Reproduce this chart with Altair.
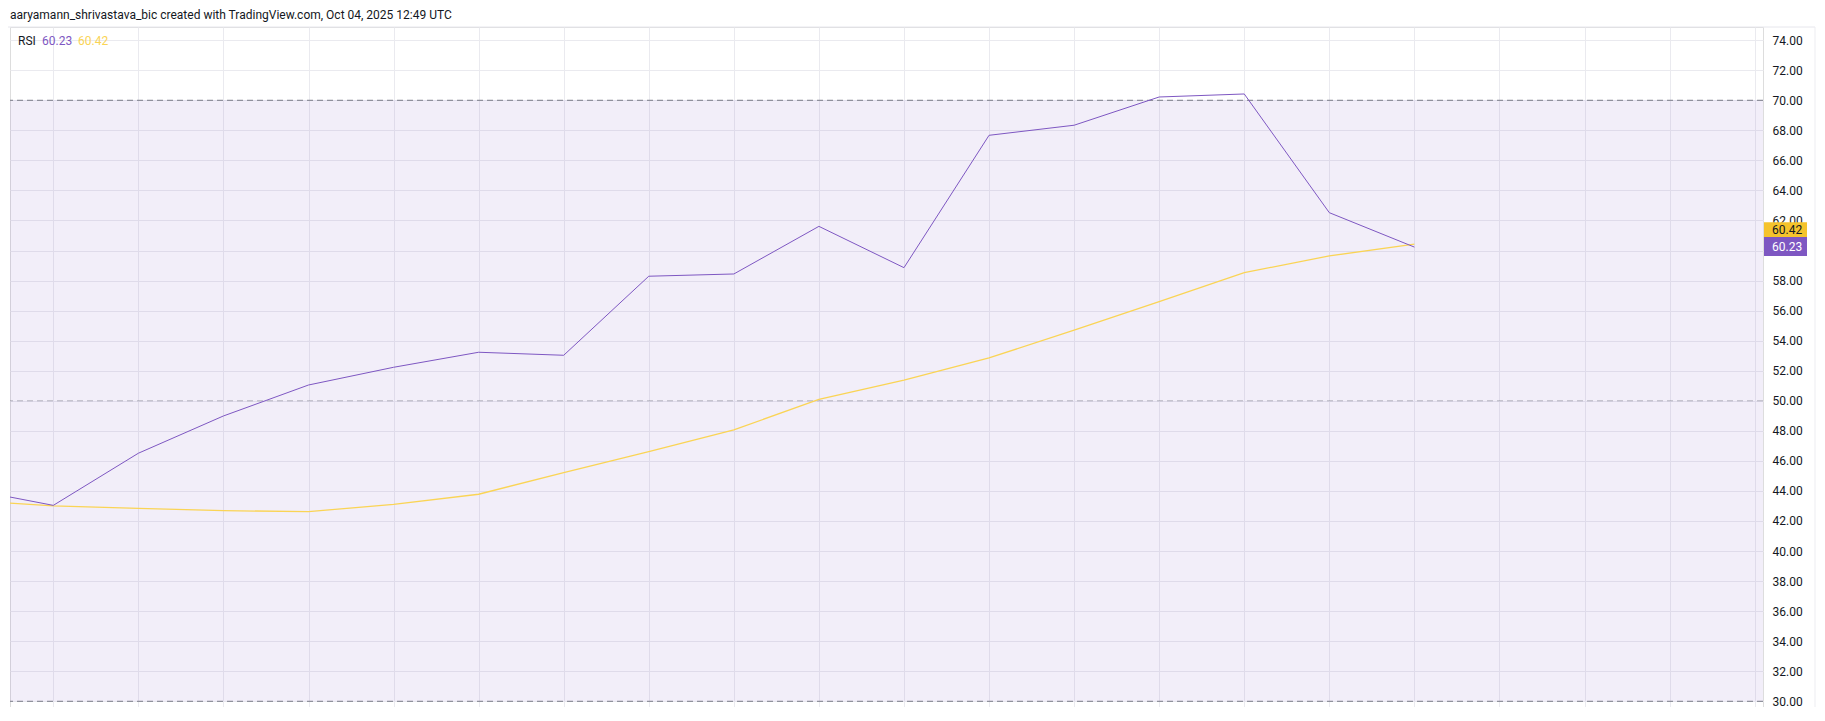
import altair as alt
import pandas as pd

# ---- data ----
bar_index = list(range(-1, 17))
rsi_values = [44.13, 43.04, 46.51, 48.99, 51.05, 52.23, 53.23, 53.03, 58.29, 58.44,
              61.61, 58.86, 67.67, 68.34, 70.22, 70.42, 62.52, 60.23]
ma_values = [43.36, 43.00, 42.84, 42.69, 42.62, 43.11, 43.78, 45.22, 46.61, 48.06,
             50.10, 51.38, 52.85, 54.71, 56.60, 58.53, 59.64, 60.42]
band_upper = [70]
band_lower = [30]
band_middle = [50]
y_tick_values = list(range(30, 76, 2))
x_grid_values = list(range(0, 21))
title_text = ["aaryamann_shrivastava_bic created with TradingView.com, Oct 04, 2025 12:49 UTC"]
legend_labels = ["RSI", "60.23", "60.42"]
last_rsi = [60.23]
last_ma = [60.42]

PURPLE = "#7E57C2"
YELLOW = "#FAD455"
TEXT = "#131722"
GRID = "#EAEAEF"
FONT = "Roboto"

W = 1753
H = 680

df = pd.DataFrame({"i": bar_index, "rsi": rsi_values, "ma": ma_values})

xscale = alt.Scale(domain=[-0.509, 20.098], nice=False, zero=False)
yscale = alt.Scale(domain=[29.62, 74.878], nice=False, zero=False)

x_axis = alt.Axis(values=x_grid_values, labels=False, ticks=False, domain=False,
                  grid=True, gridColor=GRID, gridWidth=1, title=None)
y_axis = alt.Axis(orient="right", values=y_tick_values, format=".2f",
                  ticks=False, domain=False, labelPadding=9, labelOverlap=False,
                  labelFont=FONT, labelFontSize=12, labelColor=TEXT,
                  grid=True, gridColor=GRID, gridWidth=1, title=None)


def Y(field):
    return alt.Y(field, scale=yscale, axis=y_axis)


def X(field):
    return alt.X(field, scale=xscale, axis=x_axis)


base = alt.Chart(df)

band = alt.Chart(pd.DataFrame({"top": band_upper, "bot": band_lower})).mark_rect(
    color=PURPLE, opacity=0.1
).encode(x=alt.value(0), x2=alt.value(W), y=Y("top:Q"), y2="bot:Q")

outer_rules = alt.Chart(pd.DataFrame({"lvl": band_upper + band_lower})).mark_rule(
    color="#787B86", strokeDash=[6, 4], strokeWidth=1
).encode(y=Y("lvl:Q"))

mid_rule = alt.Chart(pd.DataFrame({"lvl": band_middle})).mark_rule(
    color="#787B86", strokeDash=[6, 4], strokeWidth=1, opacity=0.5
).encode(y=Y("lvl:Q"))

ma_line = base.mark_line(color=YELLOW, strokeWidth=1.3, clip=True).encode(
    x=X("i:Q"), y=Y("ma:Q"))

rsi_line = base.mark_line(color=PURPLE, strokeWidth=1, clip=True).encode(
    x=X("i:Q"), y=Y("rsi:Q"))

# price label boxes on the right scale
ma_box = alt.Chart(pd.DataFrame({"v": last_ma})).mark_rect(
    color="#F5C32C", yOffset=-22, y2Offset=-7
).encode(x=alt.value(W + 1), x2=alt.value(W + 44), y=Y("v:Q"), y2="v:Q")
ma_box_text = alt.Chart(pd.DataFrame({"v": last_ma})).mark_text(
    align="left", baseline="middle", font=FONT, fontSize=12, color=TEXT, dy=-14.5
).encode(x=alt.value(W + 9), y=Y("v:Q"), text=alt.Text("v:Q", format=".2f"))

rsi_box = alt.Chart(pd.DataFrame({"v": last_rsi})).mark_rect(
    color=PURPLE, yOffset=-10, y2Offset=9
).encode(x=alt.value(W + 1), x2=alt.value(W + 44), y=Y("v:Q"), y2="v:Q")
rsi_box_text = alt.Chart(pd.DataFrame({"v": last_rsi})).mark_text(
    align="left", baseline="middle", font=FONT, fontSize=12, color="white", dy=-0.5
).encode(x=alt.value(W + 9), y=Y("v:Q"), text=alt.Text("v:Q", format=".2f"))

# legend text in the top-left corner
legend_df = pd.DataFrame({
    "label": legend_labels,
    "col": [TEXT, PURPLE, YELLOW],
    "px": [8, 32, 68],
})
legend = alt.Chart(legend_df).mark_text(
    align="left", baseline="middle", font=FONT, fontSize=12
).encode(x=alt.X("px:Q", scale=None), y=alt.value(14), text="label:N",
         color=alt.Color("col:N", scale=None))

# header text above the panel
header = alt.Chart(pd.DataFrame({"t": title_text})).mark_text(
    align="left", baseline="alphabetic", font=FONT, fontSize=12, color=TEXT
).encode(x=alt.value(0), y=alt.value(-8), text="t:N")

# panel borders
top_border = alt.Chart(pd.DataFrame({"a": [0]})).mark_rule(color="#E6E6EC").encode(
    x=alt.value(-10), x2=alt.value(W + 52), y=alt.value(0))
right_border = alt.Chart(pd.DataFrame({"a": [0]})).mark_rule(color="#EDEDF1").encode(
    x=alt.value(W + 52), y=alt.value(0), y2=alt.value(H))

chart = alt.layer(
    band, outer_rules, mid_rule, ma_line, rsi_line,
    ma_box, ma_box_text, rsi_box, rsi_box_text, legend, header, top_border, right_border
).properties(
    width=W, height=H,
    autosize=alt.AutoSizeParams(type="none"),
    padding={"left": 2, "top": 19, "right": 54, "bottom": 0},
).configure_view(stroke=None).configure_axis(labelOverlap=False).configure(background="white")

chart.save("out.html", embed_options={"renderer": "svg", "actions": False})
